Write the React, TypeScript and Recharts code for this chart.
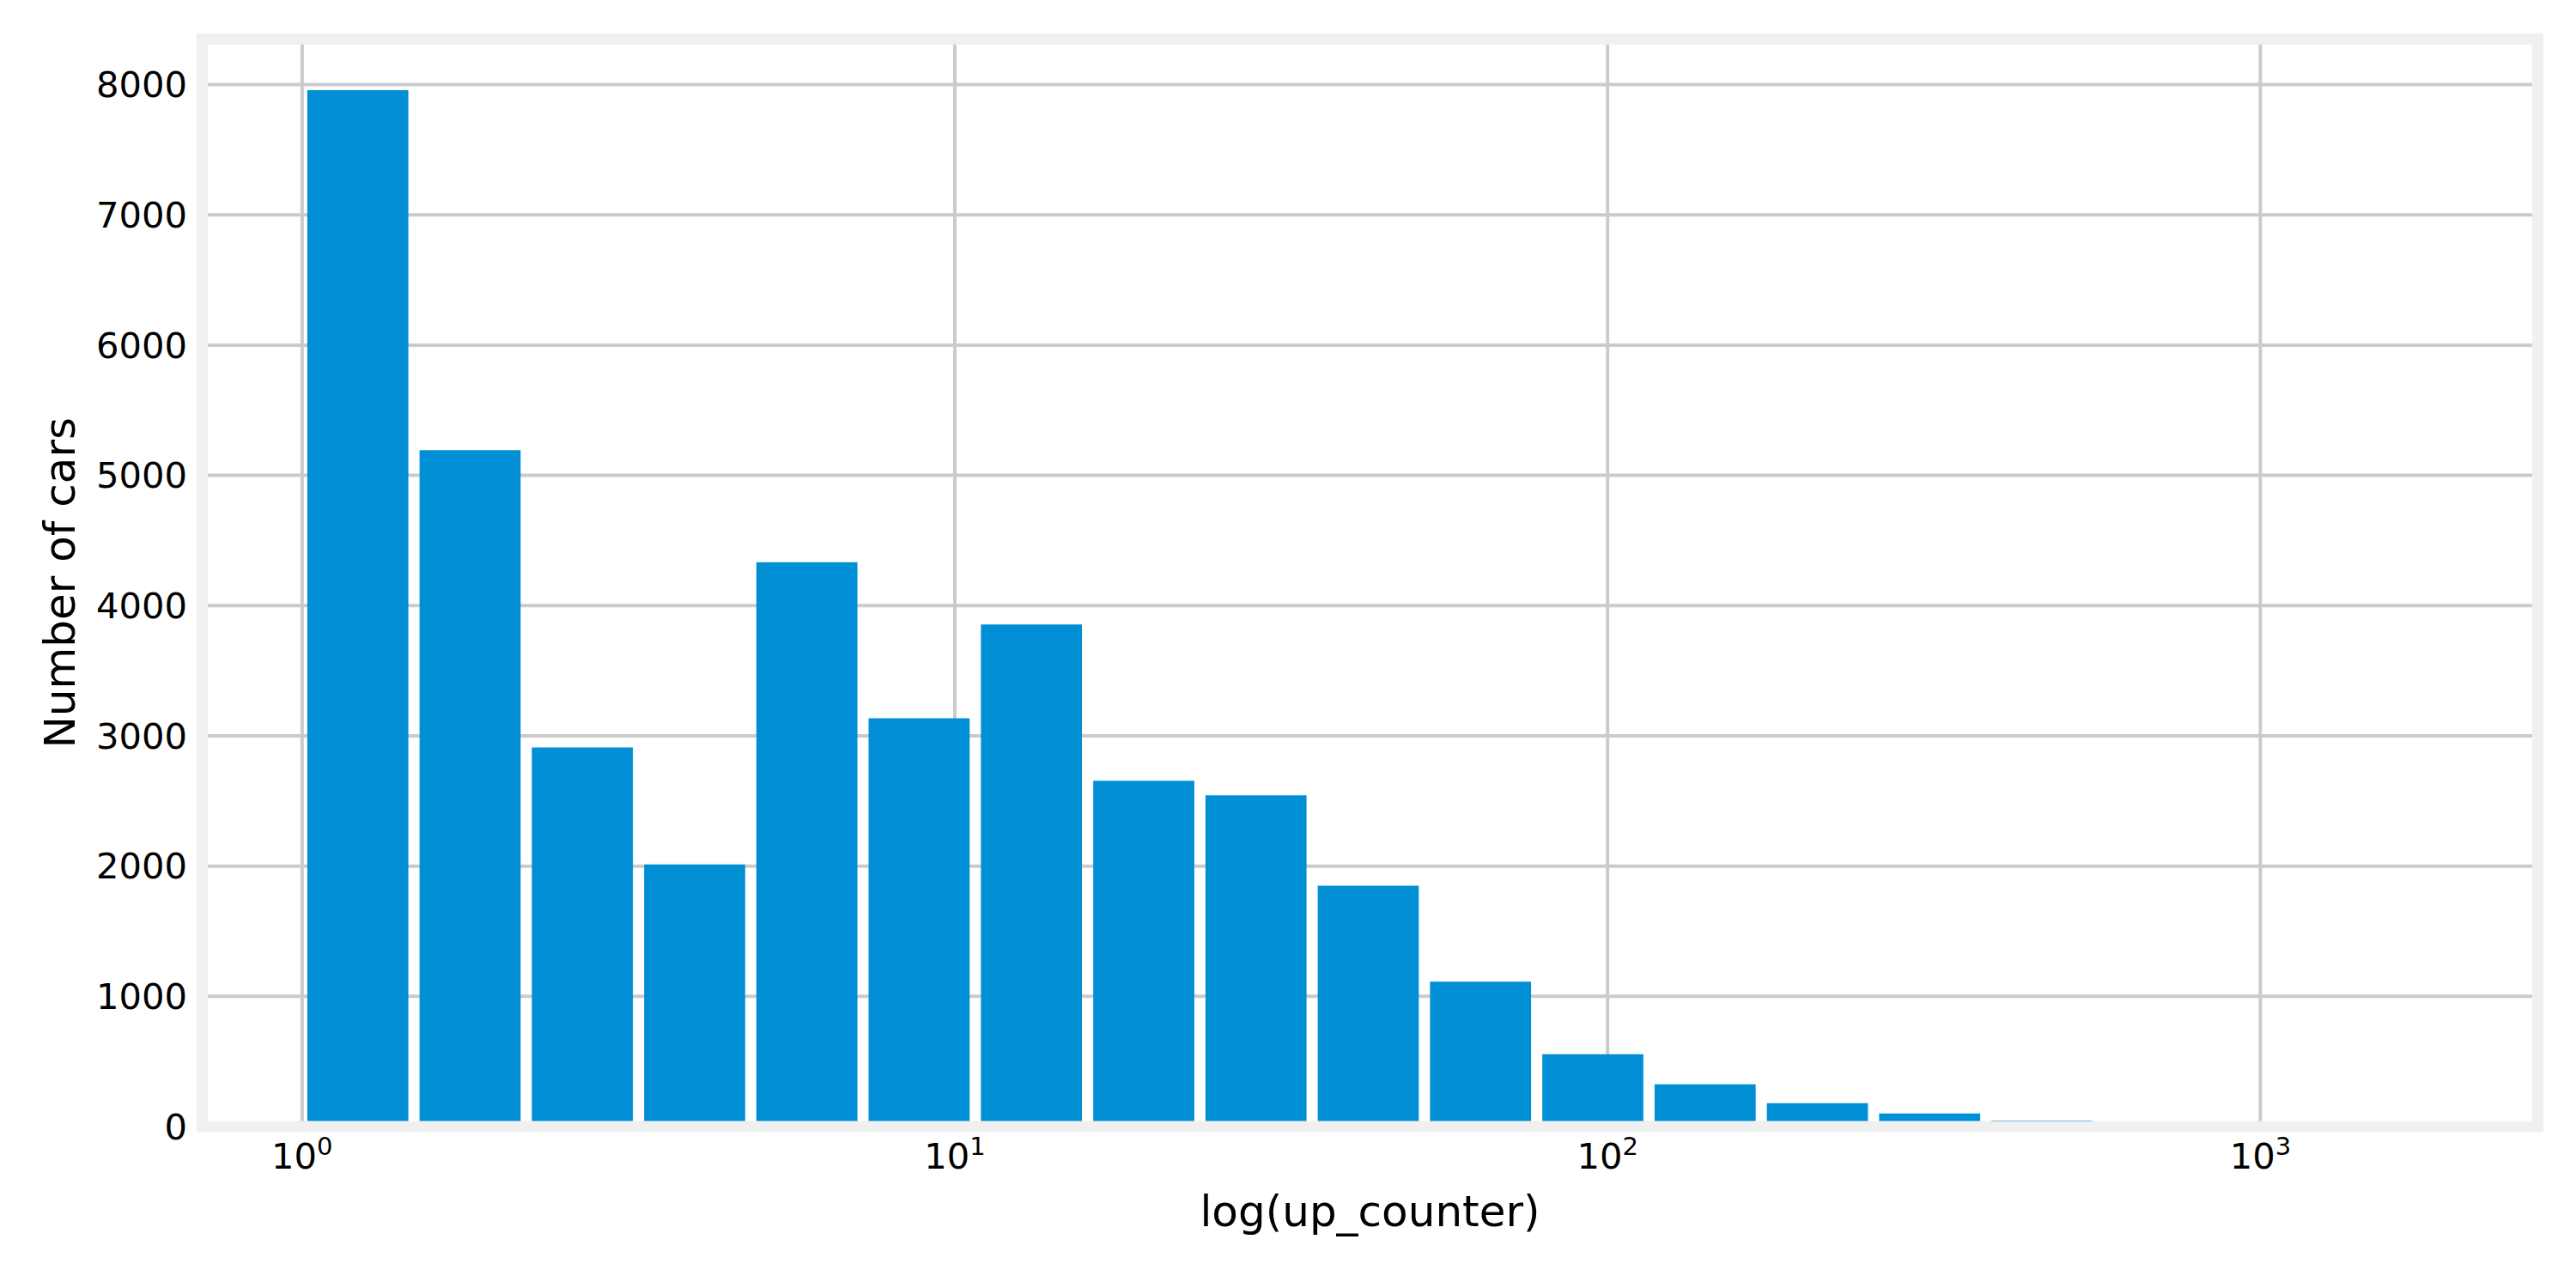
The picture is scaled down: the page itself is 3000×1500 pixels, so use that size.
import React from 'react';
import { ComposedChart, Bar, XAxis, YAxis, CartesianGrid, Label, ReferenceArea } from 'recharts';

// histogram of up_counter, log-spaced bins (bin edges)
const binEdges = [1, 1.486, 2.208, 3.281, 4.875, 7.244, 10.76, 16.0, 23.77, 35.32, 52.48, 77.98, 115.9, 172.2, 255.9, 380.2, 565.0, 839.5, 1247, 1854];
const carCounts = [7957, 5193, 2910, 2013, 4334, 3135, 3855, 2656, 2543, 1849, 1112, 556, 325, 180, 101, 46, 14, 5, 2];
const xTicks = [1, 10, 100, 1000];
const yTicks = [0, 1000, 2000, 3000, 4000, 5000, 6000, 7000, 8000];
const xDomain = [0.703, 2661];
const yDomain = [0, 8350];

const W = 3000;
const H = 1500;
const MARGIN = { top: 45.5, right: 44.5, bottom: 0, left: 0 };
const Y_AXIS_W = 235.5;
const X_AXIS_H = 188;
const PLOT_W = W - MARGIN.left - MARGIN.right - Y_AXIS_W;

const FONT = "'DejaVu Sans', sans-serif";
const BAR_COLOR = '#008fd5';
const GRID_COLOR = '#cbcbcb';
const FRAME_COLOR = '#f0f0f0';

const data = binEdges.slice(0, -1).map((lo, i) => ({
    x: Math.sqrt(lo * binEdges[i + 1]),
    count: carCounts[i],
}));

// bars take 90% of the bin width (rwidth = 0.9)
const binPx = PLOT_W * Math.log10(binEdges[1] / binEdges[0]) / Math.log10(xDomain[1] / xDomain[0]);
const barSize = binPx * 0.9;

const PowerTick = (props: any) => {
    const { x, y, payload } = props;
    const exp = Math.round(Math.log10(payload.value));
    return (
        <text x={x} y={y + 49} textAnchor="middle" fontFamily={FONT} fontSize={41.67} fill="#000">
            <tspan>10</tspan>
            <tspan dy={-16.5} fontSize={29}>{exp}</tspan>
        </text>
    );
};

const XTitle = (props: any) => {
    const { viewBox } = props;
    return (
        <text x={viewBox.x + viewBox.width / 2} y={viewBox.y + 116} textAnchor="middle" fontFamily={FONT} fontSize={50} fill="#000">
            log(up_counter)
        </text>
    );
};

const YTitle = (props: any) => {
    const { viewBox } = props;
    const cx = viewBox.x + 87;
    const cy = viewBox.y + viewBox.height / 2;
    return (
        <text x={cx} y={cy} transform={`rotate(-90, ${cx}, ${cy})`} textAnchor="middle" fontFamily={FONT} fontSize={50} fill="#000">
            Number of cars
        </text>
    );
};

export default function App() {
    return (
        <div style={{ position: 'absolute', left: 0, top: 0, width: W, height: H, background: '#fff' }}>
            <ComposedChart width={W} height={H} data={data} margin={MARGIN}>
                <CartesianGrid stroke={GRID_COLOR} strokeWidth={4} />
                <XAxis
                    dataKey="x"
                    type="number"
                    scale="log"
                    domain={xDomain}
                    allowDataOverflow
                    ticks={xTicks}
                    tick={<PowerTick />}
                    tickLine={false}
                    axisLine={false}
                    tickSize={0}
                    tickMargin={0}
                    height={X_AXIS_H}
                    interval={0}
                >
                    <Label content={<XTitle />} />
                </XAxis>
                <YAxis
                    type="number"
                    domain={yDomain}
                    allowDataOverflow
                    ticks={yTicks}
                    tick={{ fontSize: 41.67, fill: '#000', fontFamily: FONT }}
                    tickLine={false}
                    axisLine={false}
                    tickSize={0}
                    tickMargin={17.5}
                    width={Y_AXIS_W}
                    interval={0}
                >
                    <Label content={<YTitle />} />
                </YAxis>
                <Bar dataKey="count" fill={BAR_COLOR} barSize={barSize} isAnimationActive={false} />
                {/* light axes frame centred on the plot edges, drawn over the bars */}
                <ReferenceArea
                    x1={xDomain[0]}
                    x2={xDomain[1]}
                    y1={yDomain[0]}
                    y2={yDomain[1]}
                    fill="none"
                    fillOpacity={0}
                    stroke={FRAME_COLOR}
                    strokeWidth={13}
                    strokeOpacity={1}
                    ifOverflow="visible"
                    zIndex={1000}
                />
            </ComposedChart>
        </div>
    );
}
